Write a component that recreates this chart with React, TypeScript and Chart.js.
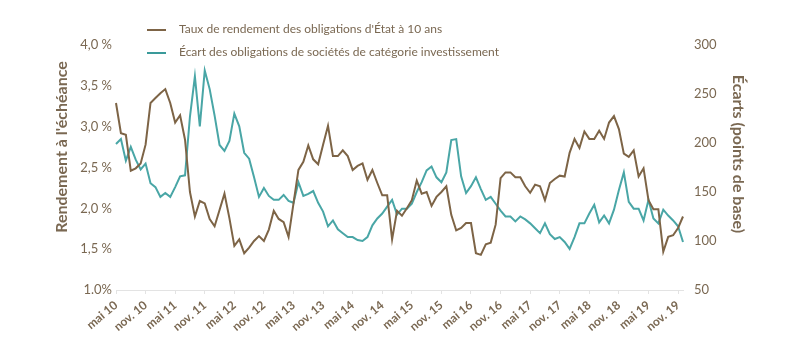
import React, { useEffect, useRef } from 'react';
import { Chart, registerables } from 'chart.js';

Chart.register(...registerables);

const monthNames = ['janv.', 'févr.', 'mars', 'avr.', 'mai', 'juin', 'juil.', 'août', 'sept.', 'oct.', 'nov.', 'déc.'];
// Monthly categories: May 2010 – December 2019
const categories: string[] = [];
for (let y = 2010; y <= 2019; y++) {
  for (let m = 0; m < 12; m++) {
    if (y === 2010 && m < 4) continue;
    categories.push(`${monthNames[m]} ${String(y).slice(2)}`);
  }
}

const xTickLabels = [
  'mai 10', 'nov. 10', 'mai 11', 'nov. 11', 'mai 12', 'nov. 12', 'mai 13', 'nov. 13', 'mai 14', 'nov. 14',
  'mai 15', 'nov. 15', 'mai 16', 'nov. 16', 'mai 17', 'nov. 17', 'mai 18', 'nov. 18', 'mai 19', 'nov. 19',
];

const leftTickLabels = ['1.0%', '1,5 %', '2,0 %', '2,5 %', '3,0 %', '3,5 %', '4,0 %'];
const rightTickLabels = ['50', '100', '150', '200', '250', '300'];

const seriesNames = [
  "Taux de rendement des obligations d'État à 10 ans",
  'Écart des obligations de sociétés de catégorie investissement',
];

// Taux de rendement (%) – left axis
const yields = [
  3.29, 2.92, 2.90, 2.46, 2.49, 2.55, 2.78, 3.29, 3.35, 3.41,
  3.46, 3.29, 3.05, 3.14, 2.84, 2.20, 1.90, 2.09, 2.06, 1.87,
  1.78, 1.98, 2.18, 1.88, 1.54, 1.62, 1.45, 1.52, 1.60, 1.66,
  1.60, 1.74, 1.97, 1.87, 1.83, 1.65, 2.06, 2.47, 2.57, 2.77,
  2.60, 2.54, 2.78, 3.01, 2.64, 2.64, 2.71, 2.64, 2.47, 2.52,
  2.55, 2.35, 2.47, 2.31, 2.16, 2.16, 1.62, 1.97, 1.91, 2.00,
  2.10, 2.34, 2.18, 2.20, 2.03, 2.14, 2.20, 2.27, 1.92, 1.73,
  1.76, 1.82, 1.82, 1.45, 1.43, 1.56, 1.58, 1.80, 2.37, 2.44,
  2.44, 2.38, 2.38, 2.27, 2.19, 2.29, 2.27, 2.10, 2.31, 2.36,
  2.40, 2.39, 2.68, 2.85, 2.74, 2.94, 2.85, 2.85, 2.95, 2.85,
  3.05, 3.13, 2.97, 2.67, 2.63, 2.71, 2.39, 2.49, 2.10, 1.99,
  1.99, 1.47, 1.65, 1.67, 1.76, 1.90,
];

// Écarts (points de base) – right axis
const spreads = [
  199, 204, 182, 196, 183, 173, 179, 159, 155, 145,
  149, 145, 155, 166, 167, 227, 268, 217, 274, 255,
  228, 198, 192, 202, 230, 217, 190, 184, 165, 145,
  154, 146, 142, 142, 147, 141, 139, 160, 146, 148,
  151, 139, 130, 115, 121, 112, 108, 104, 104, 101,
  100, 104, 116, 123, 128, 135, 142, 127, 133, 133,
  138, 150, 160, 172, 176, 165, 160, 170, 203, 204,
  166, 149, 156, 165, 153, 142, 145, 138, 131, 125,
  125, 120, 125, 122, 118, 113, 108, 118, 107, 102,
  104, 99, 92, 104, 118, 118, 128, 137, 119, 126,
  118, 132, 152, 170, 140, 133, 133, 121, 142, 123,
  118, 132, 126, 121, 115, 99,
];

const BROWN = '#7d6446';
const TEAL = '#49a6a6';
const TEXT = '#7a6852';
const AXIS = '#e3e3e3';

const overlayPlugin = {
  id: 'overlay',
  afterDraw(chart: any) {
    const ctx = chart.ctx;
    ctx.save();
    // Legend
    const rows = [
      { y: 29, color: BROWN, text: seriesNames[0] },
      { y: 52, color: '#3a9a9a', text: seriesNames[1] },
    ];
    ctx.font = '12px Lato';
    ctx.textBaseline = 'middle';
    ctx.textAlign = 'left';
    rows.forEach((r) => {
      ctx.strokeStyle = r.color;
      ctx.lineWidth = 2;
      ctx.beginPath();
      ctx.moveTo(147, r.y + 1);
      ctx.lineTo(166, r.y + 1);
      ctx.stroke();
      ctx.fillStyle = TEXT;
      ctx.fillText(r.text, 179, r.y);
    });
    // Axis titles
    ctx.font = 'bold 16px Lato';
    ctx.fillStyle = TEXT;
    ctx.textAlign = 'center';
    ctx.save();
    ctx.translate(62, 147);
    ctx.rotate(-Math.PI / 2);
    ctx.fillText("Rendement à l'échéance", 0, 0);
    ctx.restore();
    ctx.save();
    ctx.translate(738, 154);
    ctx.rotate(Math.PI / 2);
    ctx.fillText('Écarts (points de base)', 0, 0);
    ctx.restore();
    ctx.restore();
  },
};

export default function App() {
  const canvasRef = useRef<HTMLCanvasElement>(null);

  useEffect(() => {
    if (!canvasRef.current) return;
    const chart = new Chart(canvasRef.current, {
      type: 'line',
      data: {
        labels: categories,
        datasets: [
          {
            label: seriesNames[0],
            data: yields,
            borderColor: BROWN,
            backgroundColor: BROWN,
            borderWidth: 2,
            pointRadius: 0,
            tension: 0,
            yAxisID: 'y',
          },
          {
            label: seriesNames[1],
            data: spreads,
            borderColor: TEAL,
            backgroundColor: TEAL,
            borderWidth: 2,
            pointRadius: 0,
            tension: 0,
            yAxisID: 'y1',
          },
        ],
      },
      options: {
        responsive: false,
        animation: false,
        layout: { padding: { top: 45, left: 0, right: 0, bottom: 0 } },
        plugins: {
          legend: { display: false },
          tooltip: { enabled: false },
        },
        scales: {
          x: {
            type: 'category',
            offset: false,
            grid: {
              display: true,
              drawOnChartArea: false,
              drawTicks: true,
              tickLength: 4,
              color: AXIS,
            },
            border: { display: true, color: AXIS, width: 1 },
            ticks: {
              autoSkip: false,
              maxRotation: 40,
              minRotation: 40,
              padding: 4,
              color: TEXT,
              font: { family: 'Lato', size: 12, weight: 'bold' },
              callback: (_v: any, i: number) =>
                xTickLabels.includes(categories[i]) ? categories[i] : null,
            },
            afterFit: (s: any) => {
              s.height = 65;
            },
          },
          y: {
            position: 'left',
            min: 1,
            max: 4,
            grid: { display: false, drawTicks: false },
            border: { display: false },
            ticks: {
              stepSize: 0.5,
              padding: 4,
              color: TEXT,
              font: { family: 'Lato', size: 13 },
              callback: (_v: any, i: number) => leftTickLabels[i],
            },
            afterFit: (s: any) => {
              s.width = 116;
            },
          },
          y1: {
            position: 'right',
            min: 50,
            max: 300,
            grid: { display: false, drawTicks: false },
            border: { display: false },
            ticks: {
              stepSize: 50,
              padding: 11,
              color: TEXT,
              font: { family: 'Lato', size: 13 },
              callback: (_v: any, i: number) => rightTickLabels[i],
            },
            afterFit: (s: any) => {
              s.width = 117;
            },
          },
        },
      },
      plugins: [overlayPlugin],
    });
    return () => chart.destroy();
  }, []);

  return (
    <div style={{ position: 'absolute', left: 0, top: 0, width: 800, height: 355, background: '#fff' }}>
      <canvas ref={canvasRef} width={800} height={355} />
    </div>
  );
}
